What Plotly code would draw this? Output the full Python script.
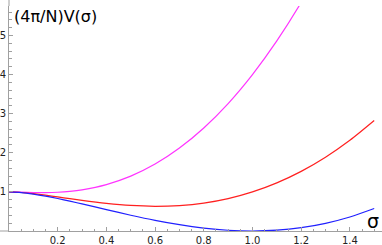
import plotly.graph_objects as go

# values
sigma = [0, 0.05, 0.1, 0.15, 0.2, 0.25, 0.3, 0.4, 0.5, 0.6, 0.7, 0.8, 0.9,
         1.0, 1.1, 1.2, 1.3, 1.4, 1.5]
v_blue = [1.0, 0.983, 0.944, 0.892, 0.831, 0.764, 0.693, 0.547, 0.403, 0.272,
          0.161, 0.075, 0.019, 0.0, 0.021, 0.086, 0.197, 0.359, 0.575]
v_red = [1.0, 0.985, 0.954, 0.915, 0.871, 0.827, 0.783, 0.707, 0.653, 0.632,
         0.651, 0.714, 0.829, 1.0, 1.231, 1.525, 1.887, 2.319, 2.824]
sigma_m = [0, 0.05, 0.1, 0.15, 0.2, 0.25, 0.3, 0.4, 0.5, 0.6, 0.7, 0.8, 0.9,
           1.0, 1.1, 1.2, 1.3]
v_magenta = [1.0, 0.993, 0.984, 0.982, 0.991, 1.014, 1.053, 1.187, 1.403, 1.712,
             2.121, 2.635, 3.259, 4.0, 4.861, 5.846, 6.957]

x_ticks = [0.2, 0.4, 0.6, 0.8, 1.0, 1.2, 1.4]
x_ticktext = ["0.2", "0.4", "0.6", "0.8", "1.0", "1.2", "1.4"]
y_ticks = [1, 2, 3, 4, 5]
y_ticktext = ["1", "2", "3", "4", "5"]

W, H = 382, 245
L, R, T, B = 9, 0, 6, 14
pw, ph = W - L - R, H - T - B

fig = go.Figure()
fig.add_trace(go.Scatter(x=sigma_m, y=v_magenta, mode="lines",
                         line=dict(color="#ff33ff", width=1.2, shape="spline", smoothing=0.8)))
fig.add_trace(go.Scatter(x=sigma, y=v_red, mode="lines",
                         line=dict(color="#ff2020", width=1.2, shape="spline", smoothing=0.8)))
fig.add_trace(go.Scatter(x=sigma, y=v_blue, mode="lines",
                         line=dict(color="#2020ff", width=1.2, shape="spline", smoothing=0.8)))

axis_col = "#a0a0a0"
fig.update_layout(
    width=W, height=H,
    margin=dict(l=L, r=R, t=T, b=B, pad=0),
    paper_bgcolor="white", plot_bgcolor="white",
    showlegend=False,
    font=dict(family="DejaVu Sans", size=10, color="#222222"),
    xaxis=dict(range=[0, 1.532], showgrid=False, zeroline=False,
               showline=True, linecolor=axis_col, linewidth=1,
               tickmode="array", tickvals=x_ticks, ticktext=x_ticktext,
               ticks="inside", ticklen=4, tickcolor=axis_col, tickwidth=1,
               minor=dict(tickmode="linear", tick0=0, dtick=0.05, ticks="inside",
                          ticklen=2.5, tickcolor=axis_col, showgrid=False),
               tickfont=dict(size=10, family="DejaVu Sans", color="#222222"),
               fixedrange=True, automargin=False),
    yaxis=dict(range=[0, 5.754], showgrid=False, zeroline=False,
               showline=True, linecolor=axis_col, linewidth=1,
               tickmode="array", tickvals=y_ticks, ticktext=y_ticktext,
               ticks="inside", ticklen=4, tickcolor=axis_col, tickwidth=1,
               minor=dict(tickmode="linear", tick0=0, dtick=0.2, ticks="inside",
                          ticklen=2.5, tickcolor=axis_col, showgrid=False),
               tickfont=dict(size=10, family="DejaVu Sans", color="#222222"),
               fixedrange=True, automargin=False),
)

# axis line extensions (padding beyond plot range)
fig.add_shape(type="line", xref="paper", yref="paper", x0=0, x1=0,
              y0=1, y1=1 + T / ph, line=dict(color=axis_col, width=1))
fig.add_shape(type="line", xref="paper", yref="paper", x0=-L / pw, x1=0,
              y0=0, y1=0, line=dict(color=axis_col, width=1))

fig.add_annotation(text="(4π/N)V(σ)", xref="paper", yref="paper",
                   x=3 / pw, y=(H - B - 17) / ph, xanchor="left", yanchor="middle",
                   showarrow=False, font=dict(family="DejaVu Sans", size=16, color="black"))
fig.add_annotation(text="σ", xref="paper", yref="paper",
                   x=(373 - L) / pw, y=(H - B - 221) / ph, xanchor="center", yanchor="middle",
                   showarrow=False, font=dict(family="DejaVu Sans", size=19, color="black"))

fig.write_html("out.html", config={"displayModeBar": False},
               post_script="document.body.style.margin='0';document.body.style.overflow='hidden';")
